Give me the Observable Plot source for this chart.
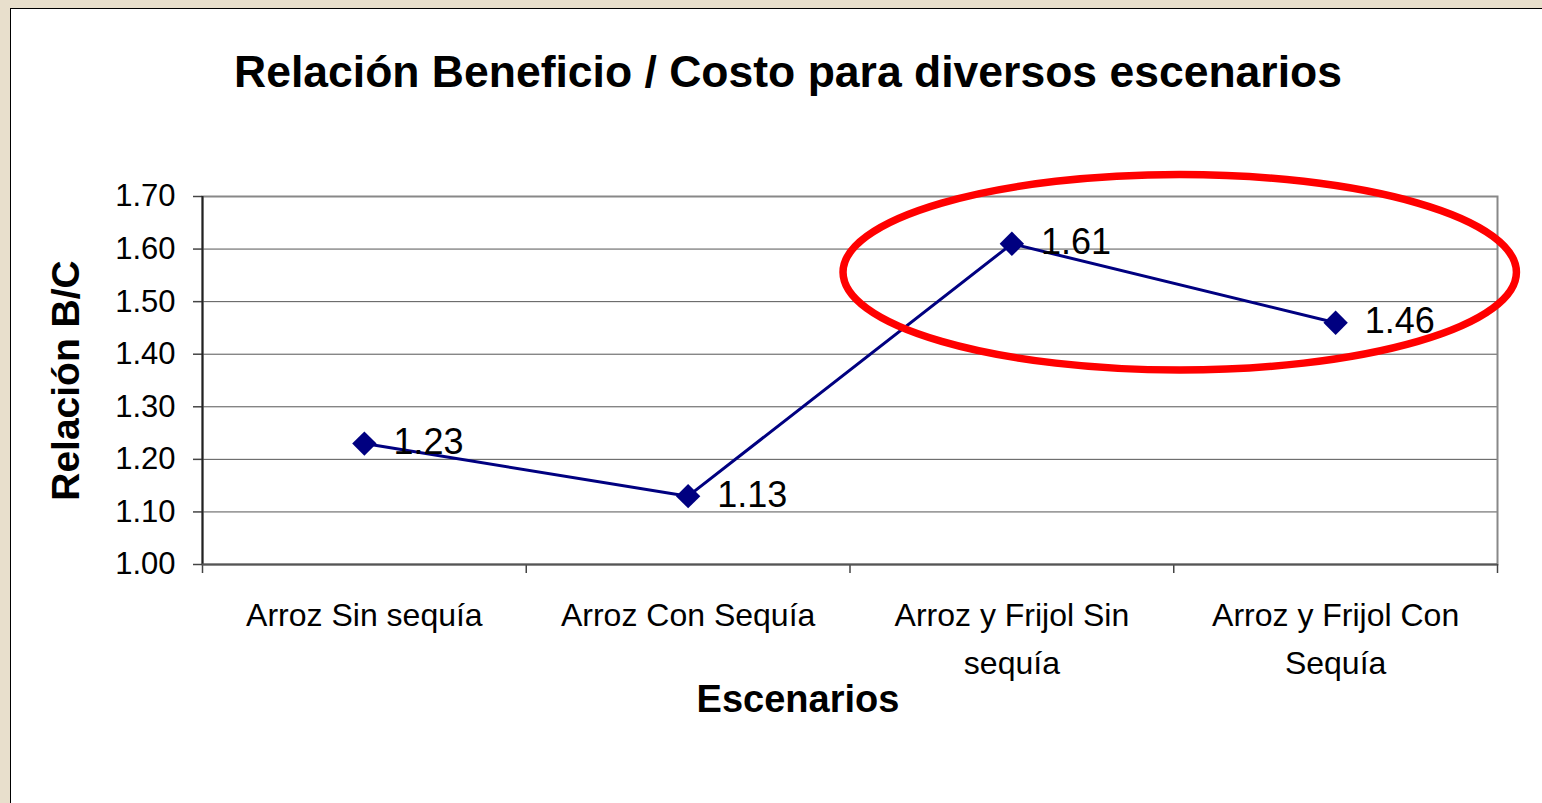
<!DOCTYPE html>
<html>
<head>
<meta charset="utf-8">
<script src="https://cdn.jsdelivr.net/npm/d3@7"></script>
<script src="https://cdn.jsdelivr.net/npm/@observablehq/plot@0.6"></script>
<style>
  html, body { margin: 0; padding: 0; }
  body { width: 1542px; height: 803px; overflow: hidden; background: #e8dfcc; position: relative; font-family: "Liberation Sans", Arial, sans-serif; }
  #panel { position: absolute; left: 10px; top: 8px; width: 1560px; height: 820px; background: #fff; border: 1px solid #000; box-sizing: border-box; }
  #title { position: absolute; left: 88px; top: 50px; width: 1400px; text-align: center; font-size: 44.5px; line-height: 44px; font-weight: bold; color: #000; }
  #chart { position: absolute; left: 11px; top: 120px; }
</style>
</head>
<body>
<div id="panel"></div>
<div id="title">Relación Beneficio / Costo para diversos escenarios</div>
<div id="chart"></div>
<script>
// ---- data ----
const categories = ["Arroz Sin sequía", "Arroz Con Sequía", "Arroz y Frijol Sin\nsequía", "Arroz y Frijol Con\nSequía"];
const values = [1.23, 1.13, 1.61, 1.46];
const valueLabels = ["1.23", "1.13", "1.61", "1.46"];
const yTicks = [1.0, 1.1, 1.2, 1.3, 1.4, 1.5, 1.6, 1.7];
const gridTicks = [1.1, 1.2, 1.3, 1.4, 1.5, 1.6];
const xTitle = "Escenarios";
const yTitle = "Relación B/C";
// highlight annotation (data units): centre between the two "Arroz y Frijol" scenarios
const highlight = {cx: 3.02, cy: 1.555, rx: 1.04, ry: 0.186};

const data = categories.map((c, i) => ({pos: i + 0.5, cat: c, value: values[i], label: valueLabels[i]}));

const W = 1531, H = 614;
const mL = 191, mR = 45, mT = 76, mB = 170;

const plot = Plot.plot({
  width: W, height: H,
  marginLeft: mL, marginRight: mR, marginTop: mT, marginBottom: mB,
  style: {fontFamily: "Liberation Sans, Arial, sans-serif", background: "transparent", color: "#000"},
  x: {type: "linear", domain: [0, categories.length], label: null},
  y: {domain: [1.0, 1.7], label: null},
  marks: [
    Plot.ruleY(gridTicks, {stroke: "#555", strokeWidth: 1}),
    Plot.frame({stroke: "#888", strokeWidth: 2}),
    Plot.axisY({ticks: yTicks, tickFormat: d3.format(".2f"), tickSize: 9, tickPadding: 18, fontSize: 31, stroke: "#444", strokeWidth: 1.5, label: null}),
    Plot.axisX({ticks: d3.range(categories.length + 1), tickFormat: () => "", tickSize: 9, stroke: "#444", strokeWidth: 1.5, label: null}),
    Plot.ruleX([0], {stroke: "#222", strokeWidth: 2}),
    Plot.ruleY([1.0], {stroke: "#555", strokeWidth: 2}),
    Plot.text(data, {x: "pos", text: "cat", frameAnchor: "bottom", lineAnchor: "top", dy: 27, fontSize: 32, lineHeight: 1.5, fill: "#000"}),
    Plot.line(data, {x: "pos", y: "value", stroke: "#000080", strokeWidth: 3}),
    Plot.dot(data, {x: "pos", y: "value", symbol: "diamond2", r: 11, fill: "#000080", stroke: "none"}),
    Plot.text(data, {x: "pos", y: "value", text: "label", textAnchor: "start", dx: 29, dy: -1, fontSize: 36, fill: "#000"}),
    Plot.text([xTitle], {frameAnchor: "bottom", dx: -52, dy: 135, lineAnchor: "middle", fontSize: 38, fontWeight: "bold", fill: "#000"}),
    Plot.text([yTitle], {frameAnchor: "left", dx: -136, rotate: -90, textAnchor: "middle", lineAnchor: "middle", fontSize: 39, fontWeight: "bold", fill: "#000"})
  ]
});
document.getElementById("chart").appendChild(plot);

// red highlight ellipse, positioned through the same scales
const xs = plot.scale("x"), ys = plot.scale("y");
const px = v => xs.apply(v), py = v => ys.apply(v);
d3.select(plot).append("ellipse")
  .attr("cx", px(highlight.cx))
  .attr("cy", py(highlight.cy))
  .attr("rx", px(highlight.cx + highlight.rx) - px(highlight.cx))
  .attr("ry", py(highlight.cy - highlight.ry) - py(highlight.cy))
  .attr("fill", "none")
  .attr("stroke", "#ff0000")
  .attr("stroke-width", 7.5);
</script>
</body>
</html>
